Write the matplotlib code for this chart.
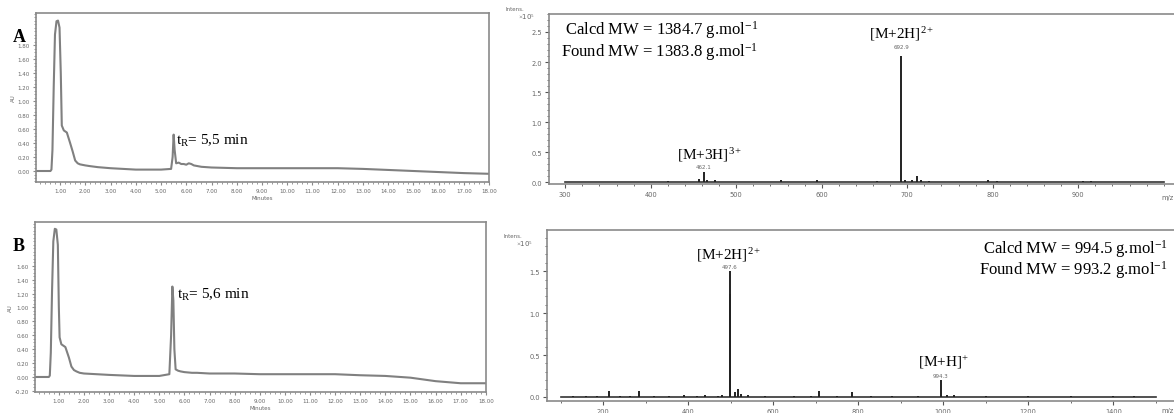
import matplotlib
matplotlib.use('Agg')
import matplotlib.pyplot as plt
from matplotlib.ticker import MultipleLocator, FormatStrFormatter

plt.rcParams['mathtext.fontset'] = 'custom'
plt.rcParams['mathtext.rm'] = 'Liberation Serif'
plt.rcParams['mathtext.it'] = 'Liberation Serif:italic'

# ---- chromatogram A (minutes, AU) ----
time_a = [0.05, 0.62, 0.66, 0.70, 0.75, 0.80, 0.86, 0.92, 0.98, 1.03, 1.07, 1.15, 1.27,
          1.40, 1.50, 1.60, 1.70, 1.79, 2.00, 2.18, 2.50, 3.00, 4.00, 5.00, 5.40, 5.46,
          5.50, 5.54, 5.60, 5.70, 5.80, 5.90, 6.00, 6.10, 6.20, 6.30, 6.60, 7.00, 8.00,
          9.00, 12.00, 13.00, 14.00, 15.00, 16.00, 17.00, 18.00]
abs_a = [0.00, 0.00, 0.02, 0.30, 1.20, 1.95, 2.14, 2.15, 2.05, 1.40, 0.65, 0.58, 0.55,
         0.40, 0.28, 0.15, 0.11, 0.095, 0.08, 0.07, 0.055, 0.04, 0.02, 0.02, 0.03, 0.20,
         0.52, 0.30, 0.11, 0.12, 0.10, 0.10, 0.09, 0.11, 0.10, 0.08, 0.06, 0.05, 0.04,
         0.04, 0.04, 0.03, 0.015, 0.00, -0.015, -0.03, -0.04]

# ---- chromatogram B ----
time_b = [0.05, 0.60, 0.64, 0.68, 0.73, 0.78, 0.84, 0.90, 0.96, 1.00, 1.03, 1.10, 1.26,
          1.40, 1.50, 1.60, 1.70, 1.83, 2.00, 2.50, 3.00, 4.00, 5.00, 5.40, 5.47, 5.52,
          5.56, 5.60, 5.65, 5.75, 5.85, 6.00, 6.30, 6.50, 7.00, 8.00, 9.00, 12.00,
          13.00, 14.00, 15.00, 16.00, 17.00, 18.00]
abs_b = [0.00, 0.00, 0.02, 0.35, 1.25, 1.95, 2.13, 2.12, 1.90, 1.00, 0.57, 0.47, 0.43,
         0.28, 0.15, 0.10, 0.08, 0.06, 0.05, 0.04, 0.03, 0.015, 0.015, 0.04, 0.60, 1.30,
         1.10, 0.40, 0.11, 0.09, 0.08, 0.07, 0.06, 0.06, 0.05, 0.05, 0.04, 0.04, 0.025,
         0.015, -0.01, -0.06, -0.09, -0.09]

# ---- mass spectrum A (m/z, intensity x1e5) ----
ms_a_range = [300, 1000]
mz_a = [330, 352, 381, 405, 420, 440, 457, 462.1, 466, 475, 490, 515, 552, 575, 595,
        620, 645, 665, 680, 692.9, 697, 705, 712, 716, 725, 760, 795, 805, 830, 860,
        905, 915, 940, 960, 985]
int_a = [0.01, 0.01, 0.01, 0.01, 0.02, 0.01, 0.05, 0.17, 0.03, 0.03, 0.01, 0.01, 0.03,
         0.01, 0.03, 0.01, 0.01, 0.02, 0.01, 2.10, 0.04, 0.03, 0.10, 0.04, 0.02, 0.01,
         0.04, 0.02, 0.01, 0.01, 0.02, 0.02, 0.01, 0.01, 0.01]
ms_a_ticks = [300, 400, 500, 600, 700, 800, 900]

# ---- mass spectrum B ----
ms_b_range = [100, 1500]
mz_b = [130, 160, 185, 213, 240, 262, 284, 320, 355, 390, 420, 440, 470, 480, 497.6,
        498.1, 510, 517, 524, 540, 580, 650, 690, 708, 750, 786, 830, 880, 940, 994.3,
        1010, 1025, 1100, 1200, 1300, 1400, 1450]
int_b = [0.01, 0.01, 0.01, 0.07, 0.01, 0.01, 0.07, 0.01, 0.01, 0.02, 0.01, 0.02, 0.01,
         0.02, 1.50, 1.23, 0.06, 0.10, 0.03, 0.02, 0.01, 0.01, 0.01, 0.07, 0.01, 0.06,
         0.01, 0.01, 0.01, 0.20, 0.02, 0.02, 0.01, 0.01, 0.01, 0.01, 0.01]
ms_b_ticks = [200, 400, 600, 800, 1000, 1200, 1400]

chrom_xticks = [1, 2, 3, 4, 5, 6, 7, 8, 9, 10, 11, 12, 13, 14, 15, 16, 17, 18]
chrom_a_yticks = [0.0, 0.2, 0.4, 0.6, 0.8, 1.0, 1.2, 1.4, 1.6, 1.8]
chrom_b_yticks = [-0.2, 0.0, 0.2, 0.4, 0.6, 0.8, 1.0, 1.2, 1.4, 1.6]

gray = '#8a8a8a'
tick_col = '#666666'
serif = 'Liberation Serif'

fig = plt.figure(figsize=(11.74, 4.14), dpi=100)


def chrom_axes(rect, t, a, ylim, yticks, note, note_xy, letter):
    ax = fig.add_axes(rect)
    ax.plot(t, a, color='#808080', lw=1.5)
    ax.set_xlim(0.05, 18.0)
    ax.set_ylim(*ylim)
    ax.set_xticks(chrom_xticks)
    ax.xaxis.set_major_formatter(FormatStrFormatter('%.2f'))
    ax.xaxis.set_minor_locator(MultipleLocator(0.2))
    ax.set_yticks(yticks)
    ax.yaxis.set_major_formatter(FormatStrFormatter('%.2f'))
    ax.yaxis.set_minor_locator(MultipleLocator(0.05))
    for s in ax.spines.values():
        s.set_color(gray)
        s.set_linewidth(1.2)
    ax.tick_params(which='both', direction='out', colors=gray, labelcolor=tick_col,
                   labelsize=4, pad=2)
    ax.tick_params(which='major', length=2.5, width=0.8)
    ax.tick_params(which='minor', length=1.5, width=0.6)
    ax.set_xlabel('Minutes', fontsize=4, color=tick_col, labelpad=1)
    ax.set_ylabel('AU', fontsize=4, color=tick_col, labelpad=1)
    ax.text(note_xy[0], note_xy[1], note, fontsize=11, family=serif, va='center',
            ha='left')
    ax.text(-0.036, 0.86, letter, transform=ax.transAxes, fontsize=13, family=serif,
            weight='bold', ha='center', va='center')
    return ax


chrom_axes([0.0307, 0.558, 0.386, 0.408], time_a, abs_a, (-0.157, 2.257),
           chrom_a_yticks, r't$_\mathregular{R}$= 5,5 min', (5.6, 0.44), 'A')
chrom_axes([0.0298, 0.0507, 0.384, 0.411], time_b, abs_b, (-0.216, 2.23),
           chrom_b_yticks, r't$_\mathregular{R}$= 5,6 min', (5.7, 1.2), 'B')


def ms_axes(rect, rng, mz, inten, xlim, ylim, xticks, xminor, lab_y, mz_y):
    ax = fig.add_axes(rect)
    ax.plot(rng, [0, 0], color='#333333', lw=1.2)
    ax.vlines(mz, 0, inten, color='#222222', lw=1.4)
    ax.set_xlim(*xlim)
    ax.set_ylim(*ylim)
    ax.set_xticks(xticks)
    ax.xaxis.set_minor_locator(MultipleLocator(xminor))
    ax.yaxis.set_major_locator(MultipleLocator(0.5))
    ax.yaxis.set_minor_locator(MultipleLocator(0.1))
    ax.yaxis.set_major_formatter(FormatStrFormatter('%.1f'))
    ax.spines['right'].set_visible(False)
    for s in ['left', 'top', 'bottom']:
        ax.spines[s].set_color(gray)
        ax.spines[s].set_linewidth(1.2)
    ax.tick_params(which='both', direction='out', colors='#555555',
                   labelcolor=tick_col, labelsize=4.8, pad=2)
    ax.tick_params(which='major', length=3, width=0.8)
    ax.tick_params(which='minor', length=1.5, width=0.6)
    ax.text(-0.07, lab_y, 'Intens.', transform=ax.transAxes, fontsize=4,
            color=tick_col, ha='left', va='bottom')
    ax.text(-0.05, lab_y - 0.005, r'$\times$10$^5$', transform=ax.transAxes,
            fontsize=5, color=tick_col, ha='left', va='top', family='DejaVu Sans')
    ax.text(0.999, mz_y, 'm/z', transform=ax.transAxes, fontsize=4.8, color=tick_col,
            ha='right', va='center')
    return ax


axa = ms_axes([0.4676, 0.553, 0.5324, 0.411], ms_a_range, mz_a, int_a, (281, 1012),
              (-0.03, 2.80), ms_a_ticks, 20, 1.02, -0.075)
axa.text(300, 2.55, r'Calcd MW = 1384.7 g.mol$^{-1}$', family=serif, fontsize=12,
         ha='left', va='center')
axa.text(295, 2.18, r'Found MW = 1383.8 g.mol$^{-1}$', family=serif, fontsize=12,
         ha='left', va='center')
axa.text(694, 2.48, r'[M+2H]$^{2+}$', family=serif, fontsize=11, ha='center',
         va='center')
axa.text(692.9, 2.22, '692.9', fontsize=4, color=tick_col, ha='center', va='bottom')
axa.text(469, 0.47, r'[M+3H]$^{3+}$', family=serif, fontsize=11, ha='center',
         va='center')
axa.text(462.1, 0.22, '462.1', fontsize=4, color=tick_col, ha='center', va='bottom')

axb = ms_axes([0.466, 0.029, 0.534, 0.413], ms_b_range, mz_b, int_b, (68, 1543),
              (-0.048, 1.99), ms_b_ticks, 100, 0.955, -0.055)
axb.text(495, 1.70, r'[M+2H]$^{2+}$', family=serif, fontsize=11, ha='center',
         va='center')
axb.text(497.6, 1.53, '497.6', fontsize=4, color=tick_col, ha='center', va='bottom')
axb.text(1000, 0.42, r'[M+H]$^{+}$', family=serif, fontsize=11, ha='center',
         va='center')
axb.text(994.3, 0.23, '994.3', fontsize=4, color=tick_col, ha='center', va='bottom')
axb.text(1528, 1.78, r'Calcd MW = 994.5 g.mol$^{-1}$', family=serif, fontsize=12,
         ha='right', va='center')
axb.text(1528, 1.52, r'Found MW = 993.2 g.mol$^{-1}$', family=serif, fontsize=12,
         ha='right', va='center')

fig.savefig('out.png', dpi=100)
